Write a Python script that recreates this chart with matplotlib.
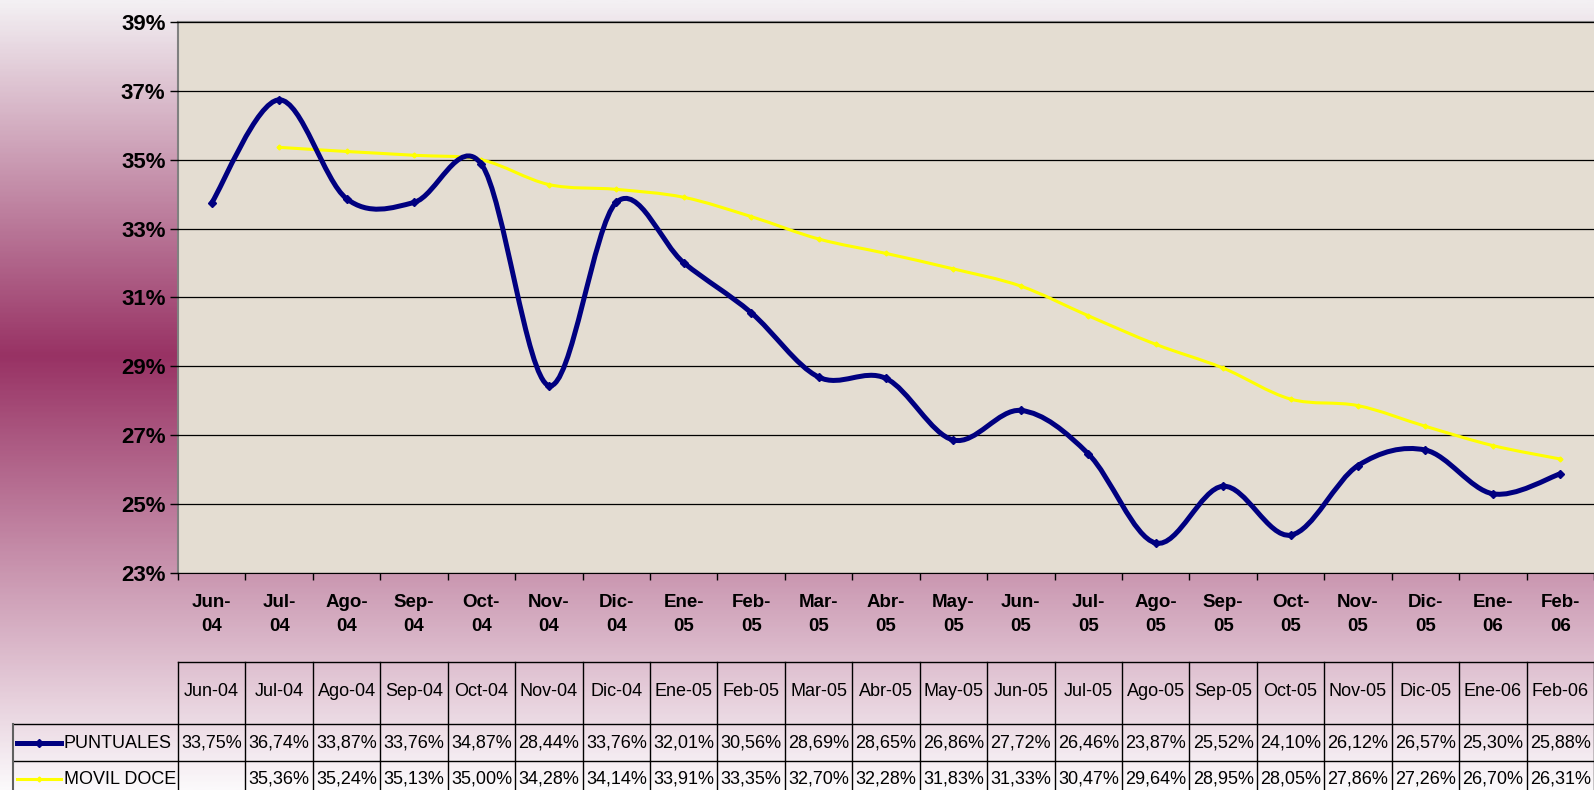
import numpy as np
import matplotlib
matplotlib.use("Agg")
import matplotlib.pyplot as plt
from matplotlib.path import Path
from matplotlib.patches import PathPatch
from matplotlib.colors import LinearSegmentedColormap
from matplotlib.ticker import FixedLocator, NullFormatter

plt.rcParams["font.family"] = ["Liberation Sans", "DejaVu Sans"]

# datos
meses = ["Jun-04", "Jul-04", "Ago-04", "Sep-04", "Oct-04", "Nov-04", "Dic-04",
         "Ene-05", "Feb-05", "Mar-05", "Abr-05", "May-05", "Jun-05", "Jul-05",
         "Ago-05", "Sep-05", "Oct-05", "Nov-05", "Dic-05", "Ene-06", "Feb-06"]
puntuales = [33.75, 36.74, 33.87, 33.76, 34.87, 28.44, 33.76, 32.01, 30.56, 28.69,
             28.65, 26.86, 27.72, 26.46, 23.87, 25.52, 24.10, 26.12, 26.57, 25.30, 25.88]
movil_doce = [None, 35.36, 35.24, 35.13, 35.00, 34.28, 34.14, 33.91, 33.35, 32.70,
              32.28, 31.83, 31.33, 30.47, 29.64, 28.95, 28.05, 27.86, 27.26, 26.70, 26.31]
y_ticks = [23, 25, 27, 29, 31, 33, 35, 37, 39]

W, H = 1594, 790
fig = plt.figure(figsize=(W / 100, H / 100), dpi=100)

# fondo degradado
bg = fig.add_axes([0, 0, 1, 1], zorder=0)
cmap = LinearSegmentedColormap.from_list(
    "fondo",
    [(0.0, (243/255, 240/255, 243/255)),
     (0.45, (152/255, 50/255, 100/255)),
     (1.0, (251/255, 249/255, 251/255))])
bg.imshow(np.linspace(0, 1, 400).reshape(-1, 1), aspect="auto", cmap=cmap,
          extent=[0, 1, 0, 1], origin="upper")
bg.set_axis_off()

left_px, top_px, bottom_px = 178, 22, 573
ax = fig.add_axes([left_px / W, 1 - bottom_px / H, 1 - left_px / W,
                   (bottom_px - top_px) / H], zorder=1)
ax.set_facecolor("#e4ddd2")


def smooth_path(xs, ys):
    # curva suavizada tipo Excel (Bezier con tension 1/6)
    pts = np.column_stack([xs, ys]).astype(float)
    n = len(pts)
    verts = [pts[0]]
    codes = [Path.MOVETO]
    for i in range(n - 1):
        p0 = pts[max(i - 1, 0)]
        p1 = pts[i]
        p2 = pts[i + 1]
        p3 = pts[min(i + 2, n - 1)]
        c1 = p1 + (p2 - p0) / 6.0
        c2 = p2 - (p3 - p1) / 6.0
        verts += [c1, c2, p2]
        codes += [Path.CURVE4] * 3
    return Path(verts, codes)


x = np.arange(len(meses))
xm = np.array([i for i, v in enumerate(movil_doce) if v is not None])
ym = np.array([v for v in movil_doce if v is not None])

ax.add_patch(PathPatch(smooth_path(xm, ym), facecolor="none", edgecolor="#ffff00",
                       lw=2.2, zorder=3, capstyle="round", joinstyle="round"))
ax.plot(xm, ym, ls="none", marker="D", ms=2.5, color="#ffff00", zorder=3)
ax.add_patch(PathPatch(smooth_path(x, puntuales), facecolor="none", edgecolor="#000080",
                       lw=3.6, zorder=4, capstyle="round", joinstyle="round"))
ax.plot(x, puntuales, ls="none", marker="D", ms=4, color="#000080", zorder=4)

ax.set_xlim(-0.5, len(meses) - 0.5)
ax.set_ylim(23, 39)
ax.set_yticks(y_ticks)
ax.set_yticklabels([f"{t}%" for t in y_ticks], fontsize=16, fontweight="bold")
ax.yaxis.grid(True, color="black", lw=0.9)
ax.set_axisbelow(False)
ax.xaxis.set_major_locator(FixedLocator(np.arange(-0.5, len(meses), 1.0)))
ax.xaxis.set_major_formatter(NullFormatter())
ax.xaxis.set_minor_locator(FixedLocator(x))
ax.set_xticklabels([m.replace("-", "-\n") for m in meses], minor=True,
                   fontsize=13.5, fontweight="bold", linespacing=1.55)
ax.tick_params(axis="x", which="minor", length=0, pad=15)
ax.tick_params(axis="x", which="major", length=5, direction="out", width=1)
ax.tick_params(axis="y", length=6, direction="out", width=1, pad=3)
for sp in ["top", "left"]:
    ax.spines[sp].set_color("#808080")
    ax.spines[sp].set_linewidth(1.5)
ax.spines["bottom"].set_color("black")
ax.spines["right"].set_visible(False)
for gl in ax.yaxis.get_gridlines():
    gl.set_zorder(1)

# tabla de datos
colw = (W - left_px) / len(meses)
tx = fig.add_axes([0, 0, 1, 1], zorder=2)
tx.set_xlim(-0.5 - left_px / colw, len(meses) - 0.5)
tx.set_ylim(H, 0)
tx.set_axis_off()
tx.patch.set_alpha(0)

row_hdr, row_p, row_m = 662, 724, 761
leg_left = -0.5 - (left_px - 13) / colw
edge = len(meses) - 0.5
tx.plot([-0.5, edge], [row_hdr, row_hdr], color="black", lw=1)
tx.plot([leg_left, edge], [row_p, row_p], color="black", lw=1)
tx.plot([leg_left, edge], [row_m, row_m], color="black", lw=1)
tx.plot([leg_left, leg_left], [row_p, H], color="#606060", lw=1.5)
for b in np.arange(-0.5, len(meses), 1.0):
    tx.plot([b, b], [row_hdr, H], color="black", lw=1)

for i, m in enumerate(meses):
    tx.text(i, 692, m, ha="center", va="center", fontsize=13)
    tx.text(i, 743, f"{puntuales[i]:.2f}%".replace(".", ","), ha="center",
            va="center", fontsize=13)
    if movil_doce[i] is not None:
        tx.text(i, 779, f"{movil_doce[i]:.2f}%".replace(".", ","), ha="center",
                va="center", fontsize=13)

k0 = leg_left + 4 / colw
k1 = leg_left + 48 / colw
tx.plot([k0, k1], [743, 743], color="#000080", lw=3.6)
tx.plot([(k0 + k1) / 2], [743], marker="D", ms=4, color="#000080")
tx.plot([k0, k1], [779, 779], color="#ffff00", lw=2.2)
tx.plot([(k0 + k1) / 2], [779], marker="D", ms=2.5, color="#ffff00")
tx.text(leg_left + 51 / colw, 743, "PUNTUALES", va="center", fontsize=13)
tx.text(leg_left + 51 / colw, 779, "MOVIL DOCE", va="center", fontsize=13)

fig.savefig("out.png", dpi=100)
